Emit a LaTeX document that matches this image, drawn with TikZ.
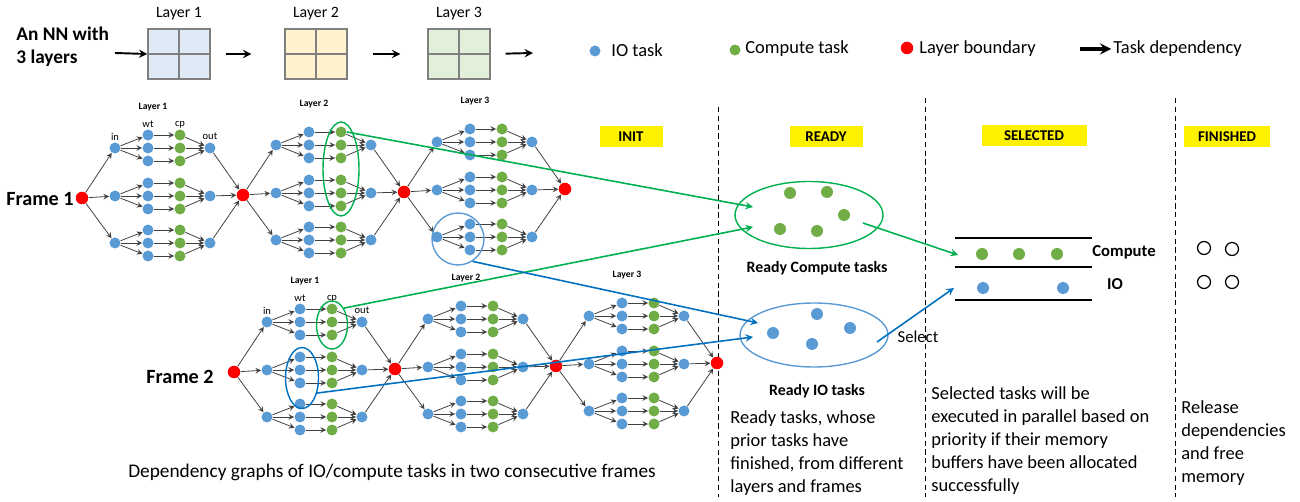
\documentclass[tikz,border=0pt]{standalone}
\usepackage{fontspec}
\setmainfont{Carlito}
\usetikzlibrary{shapes.geometric}
\definecolor{ioblue}{HTML}{5B9BD5}
\definecolor{cpgreen}{HTML}{70AD47}
\definecolor{selgreen}{HTML}{00B050}
\definecolor{selblue}{HTML}{0070C0}
\definecolor{nnblue}{HTML}{DEEBF7}
\definecolor{nnyellow}{HTML}{FFF2CC}
\definecolor{nngreen}{HTML}{E2F0D9}
\tikzset{
	iotask/.style={
		inner sep = 0,
		shape = circle,
		minimum size = 0.22cm,
		fill = ioblue
	},
	cptask/.style={
		inner sep = 0,
		shape = circle,
		minimum size = 0.22cm,
		fill = cpgreen
	},
	bnd/.style={
		inner sep = 0,
		shape = circle,
		minimum size = 0.25cm,
		fill = red
	},
	fin/.style={
		inner sep = 0,
		shape = circle,
		minimum size = 0.26cm,
		draw,
		line width = 0.7pt
	},
	dep/.style={->, draw=black!75, line width=0.45pt},
	pick/.style={->, line width=0.9pt},
	nnbox/.style={draw=black!50, line width=0.8pt, minimum width=1.24cm, minimum height=1cm, inner sep=0},
	nnarrow/.style={->, line width=1.1pt},
	phase/.style={fill=yellow, inner sep=0, minimum height=0.42cm, font=\fontsize{8.5}{10}\selectfont\bfseries},
	note/.style={anchor=north west, align=left, inner sep=0},
	sep/.style={dash pattern=on 3pt off 2pt, line width=0.5pt},
	glbl/.style={inner sep=0.5pt, anchor=south, font=\fontsize{6}{7}\selectfont},
}
\tikzset{>=stealth}

\newcommand{\tasklayer}[3]{%
  \foreach \g/\gy in {1/-48,2/0,3/47}{
    \node[iotask] (#1in\g) at (#2+33,#3+\gy) {};
    \node[iotask] (#1out\g) at (#2+128,#3+\gy) {};
    \foreach \k/\ky in {1/-13,2/0,3/13}{
      \node[iotask] (#1wt\g\k) at (#2+66,#3+\gy+\ky) {};
      \node[cptask] (#1cp\g\k) at (#2+98,#3+\gy+\ky) {};
      \draw[dep] (#1in\g) -- (#1wt\g\k);
      \draw[dep] (#1wt\g\k) -- (#1cp\g\k);
      \draw[dep] (#1cp\g\k) -- (#1out\g);
    }
  }
}

\begin{document}
\begin{tikzpicture}[x=0.02cm, y=-0.02cm, font=\fontsize{10.5}{13.2}\selectfont]
    \useasboundingbox (0,0) rectangle (1300,502);

    \node[note, font=\fontsize{11}{13}\selectfont\bfseries] (nntxt) at (16,27) {An NN with\\3 layers};
    \foreach \n/\x/\c in {1/179/nnblue, 2/316/nnyellow, 3/459/nngreen}{
      \node[nnbox, fill=\c] (nn\n) at (\x,54) {};
      \draw[draw=black!50, line width=0.8pt] (nn\n.north) -- (nn\n.south) (nn\n.west) -- (nn\n.east);
      \node[anchor=south, inner sep=0, font=\fontsize{9}{10}\selectfont] (nnl\n) at ([yshift=0.15cm]nn\n.north) {Layer \n};
    }
    \coordinate (nnin) at (115,53);
    \coordinate (nnout) at (533,53);
    \draw[nnarrow] (nnin) -- (nn1.west);
    \draw[nnarrow, shorten <=0.3cm, shorten >=0.66cm] (nn1.east) -- (nn2.west);
    \draw[nnarrow, shorten <=0.5cm, shorten >=0.54cm] (nn2.east) -- (nn3.west);
    \draw[nnarrow, shorten <=0.3cm] (nn3.east) -- (nnout);

    \node[iotask] (lgio) at (595,51) {};
    \node[anchor=west, inner sep=0] (lgiot) at (611,50) {IO task};
    \node[cptask] (lgcp) at (735,50) {};
    \node[anchor=west, inner sep=0] (lgcpt) at (745,49) {Compute task};
    \node[bnd] (lgb) at (907,48) {};
    \node[anchor=west, inner sep=0] (lgbt) at (919,49) {Layer boundary};
    \coordinate (lgd) at (1080,49);
    \node[anchor=west, inner sep=0] (lgdt) at (1113,49) {Task dependency};
    \draw[->, line width=1.8pt] (lgd) -- ([xshift=-1pt]lgdt.west);

    \node[phase, minimum width=1.26cm] (init) at (631,137) {INIT};
    \node[phase, minimum width=1.46cm] (ready) at (826,137) {READY};
    \node[phase, minimum width=2.1cm] (selected) at (1034,136) {SELECTED};
    \node[phase, minimum width=1.72cm] (finished) at (1227,137) {FINISHED};
    \draw[sep] (718,107) -- (718,497);
    \draw[sep] (925,98) -- (925,497);
    \draw[sep] (1175,98) -- (1175,497);

    \foreach \f/\fx/\fy in {a/82/198, b/234/372}{
      \foreach \i in {0,...,3}
        \node[bnd] (\f r\i) at (\fx+161*\i,\fy-3*\i) {};
      \foreach \i [evaluate=\i as \j using int(\i+1)] in {0,1,2}{
        \tasklayer{\f\i}{\fx+161*\i}{\fy-3*\i-2}
        \node[inner sep=0, font=\fontsize{5.5}{6}\selectfont\bfseries] (\f lay\j) at (\fx+161*\i+71,\fy-3*\i-91) {Layer \j};
        \foreach \g in {1,2,3}{
          \draw[dep] (\f r\i) -- (\f\i in\g);
          \draw[dep] (\f\i out\g) -- (\f r\j);
        }
      }
      \node[glbl] (\f lin) at (\f0in1.north) {in};
      \node[glbl] (\f lwt) at (\f0wt11.north) {wt};
      \node[glbl] (\f lcp) at (\f0cp11.north) {cp};
      \node[glbl] (\f lout) at ([yshift=1pt]\f0out1.north) {out};
    }
    \node[font=\fontsize{11.5}{14}\selectfont\bfseries, inner sep=0] (fa) at (40,199) {Frame 1};
    \node[font=\fontsize{11.5}{14}\selectfont\bfseries, inner sep=0] (fb) at (180,377) {Frame 2};

    \node[ellipse, draw=selgreen, line width=0.8pt, minimum width=0.72cm, minimum height=1.88cm, inner sep=0] (ga) at (341,169) {};
    \node[circle, draw=ioblue, line width=0.8pt, minimum size=1.04cm, inner sep=0] (gc) at (458,239) {};
    \node[ellipse, draw=selgreen, line width=0.8pt, minimum width=0.62cm, minimum height=0.96cm, inner sep=0] (gb) at (332,325) {};
    \node[ellipse, draw=selblue, line width=0.8pt, minimum width=0.66cm, minimum height=1.22cm, inner sep=0] (gd) at (302,378) {};

    \node[ellipse, draw=selgreen, line width=0.8pt, minimum width=2.96cm, minimum height=1.34cm] (rcomp) at (809,215) {};
    \foreach \x/\y [count=\i] in {790/193, 827/192, 844/215, 780/229, 817/231}
      \node[cptask, minimum size=0.24cm] (rc\i) at (\x,\y) {};
    \node[ellipse, draw=ioblue, line width=0.8pt, minimum width=2.96cm, minimum height=1.28cm] (rio) at (814,335) {};
    \foreach \x/\y [count=\i] in {817/314, 773/333, 850/328, 812/344}
      \node[iotask, minimum size=0.24cm] (ri\i) at (\x,\y) {};
    \node[font=\fontsize{9}{10}\selectfont\bfseries, inner sep=0] (rct) at (817,268) {Ready Compute tasks};
    \node[font=\fontsize{9}{10}\selectfont\bfseries, inner sep=0] (rit) at (817,391) {Ready IO tasks};
    \node[font=\fontsize{9.5}{10}\selectfont, inner sep=0] (selt) at (918,337) {Select};

    \draw[line width=1.5pt] (955,238) -- (1092,238) (955,267) -- (1092,267) (955,300) -- (1092,300);
    \foreach \x [count=\i] in {982,1019,1057}
      \node[cptask, minimum size=0.24cm] (sc\i) at (\x,254) {};
    \foreach \x [count=\i] in {983,1063}
      \node[iotask, minimum size=0.24cm] (si\i) at (\x,288) {};
    \node[font=\fontsize{9.5}{10}\selectfont\bfseries, inner sep=0] (sct) at (1124,252) {Compute};
    \node[font=\fontsize{9.5}{10}\selectfont\bfseries, inner sep=0] (sit) at (1115,284) {IO};
    \foreach \x/\y [count=\i] in {1204/248, 1232/249, 1204/282, 1232/282}
      \node[fin] (fn\i) at (\x,\y) {};

    \coordinate (rcin1) at (753,207);
    \coordinate (rcin2) at (753,227);
    \coordinate (riin1) at (758,323);
    \coordinate (riin2) at (753,337);
    \coordinate (rcout) at (863,223);
    \coordinate (selc) at (958,255);
    \coordinate (riout) at (877,342);
    \coordinate (seli) at (954,288);
    \draw[pick, selgreen] (a1cp11.east) -- (rcin1);
    \draw[pick, selgreen] (gb.55) -- (rcin2);
    \draw[pick, selblue] (gc.-57) -- (riin1);
    \draw[pick, selblue] (gd.-45) -- (riin2);
    \draw[pick, selgreen] (rcout) -- (selc);
    \draw[pick, selblue] (riout) -- (seli);

    \node[note] (readytxt) at (730,410) {Ready tasks, whose\\prior tasks have\\finished, from different\\layers and frames};
    \node[note] (seltxt) at (931,386) {Selected tasks will be\\executed in parallel based on\\priority if their memory\\buffers have been allocated\\successfully};
    \node[note] (fintxt) at (1181,400) {Release\\dependencies\\and free\\memory};
    \node[inner sep=0, font=\fontsize{11}{13.2}\selectfont] (caption) at (392,472) {Dependency graphs of IO/compute tasks in two consecutive frames};
\end{tikzpicture}
\end{document}
